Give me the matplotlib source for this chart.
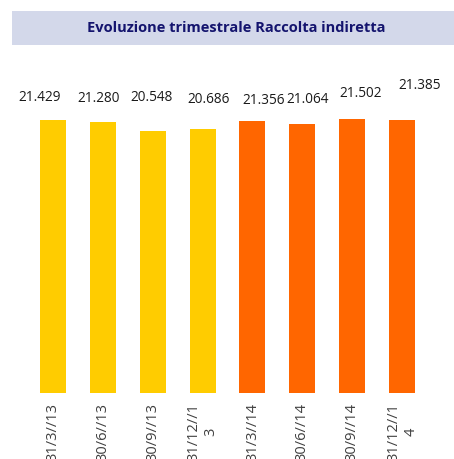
import matplotlib
matplotlib.use("Agg")
from matplotlib import pyplot as plt
from matplotlib.patches import Rectangle

#--- Data
quarters = ["31/3//13", "30/6//13", "30/9//13", "31/12//1\n3",
            "31/3//14", "30/6//14", "30/9//14", "31/12//1\n4"]
values = [21.429, 21.280, 20.548, 20.686, 21.356, 21.064, 21.502, 21.385]
labels = ["21.429", "21.280", "20.548", "20.686", "21.356", "21.064", "21.502", "21.385"]
years = [2013, 2013, 2013, 2013, 2014, 2014, 2014, 2014]

#--- Styles
year_colors = {2013: "#FFCC00", 2014: "#FF6600"}
# label offsets in pixels (x, y above bar top), labels are not evenly placed
label_offsets = [(-13, 22), (-4, 23), (-1, 34), (6, 30), (11, 20), (5, 25), (8, 25), (18, 35)]

plt.rcParams["font.family"] = ["Open Sans", "DejaVu Sans"]

fig = plt.figure(figsize=(4.54, 4.59), dpi=100)

#--- Title band
fig.patches.append(Rectangle((12 / 454, 1 - 45 / 459), 1 - 12 / 454, 34 / 459,
                             transform=fig.transFigure, facecolor="#D3D8EA",
                             edgecolor="none", zorder=0))
fig.text(236 / 454, 1 - 28 / 459, "Evoluzione trimestrale Raccolta indiretta",
         ha="center", va="center", fontsize=10.5, fontweight="bold",
         color="#14146E", family=["Liberation Sans Narrow", "Open Sans"])

ax = fig.add_axes([28 / 454, 66 / 459, 399 / 454, 24 * 12.75 / 459])
x = range(len(values))
colors = [year_colors[y] for y in years]
bars = ax.bar(x, values, width=0.52, color=colors)

for bar, lab, (dx, dy) in zip(bars, labels, label_offsets):
    ax.annotate(lab, (bar.get_x() + bar.get_width() / 2, bar.get_height()),
                xytext=(dx, dy), textcoords="offset pixels",
                ha="center", va="center", fontsize=9.8, color="#1a1a1a")

ax.set_xlim(-0.5, 7.5)
ax.set_ylim(0, 24)
ax.set_xticks(list(x))
ax.set_xticklabels(quarters, rotation=90, fontsize=10.5, color="#404040")
ax.tick_params(axis="x", length=0, pad=7)
ax.set_yticks([])
for s in ax.spines.values():
    s.set_visible(False)

fig.savefig("out.png", dpi=100)
